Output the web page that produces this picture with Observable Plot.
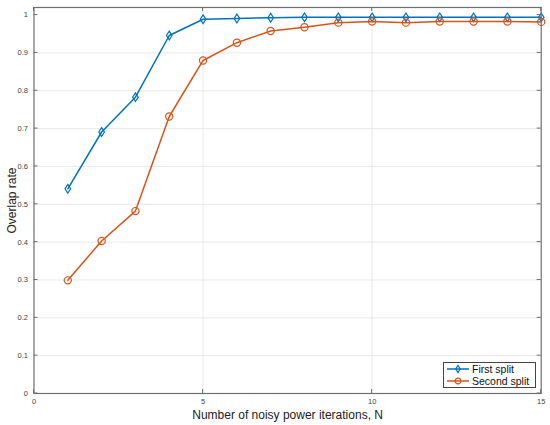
<!DOCTYPE html>
<html>
<head>
<meta charset="utf-8">
<script src="https://cdn.jsdelivr.net/npm/d3@7"></script>
<script src="https://cdn.jsdelivr.net/npm/@observablehq/plot@0.6"></script>
<style>
  body { margin: 0; background: #fff; }
  #wrap { position: relative; width: 550px; height: 425px; font-family: "Liberation Sans", Arial, sans-serif; }
  #legend { position: absolute; left: 443px; top: 362px; width: 91px; height: 24px; border: 1px solid #444; background: #fff; font-size: 10.5px; color: #111; }
  #legend .row { display: flex; align-items: center; height: 12px; }
  #legend svg { margin-left: 2px; margin-right: 2px; }
</style>
</head>
<body>
<div id="wrap"></div>
<script>
const iterations = [1,2,3,4,5,6,7,8,9,10,11,12,13,14,15];
const firstSplit = [0.541,0.691,0.783,0.946,0.989,0.991,0.993,0.994,0.994,0.994,0.994,0.994,0.994,0.994,0.994];
const secondSplit = [0.299,0.403,0.482,0.732,0.880,0.927,0.958,0.968,0.980,0.983,0.980,0.983,0.983,0.983,0.982];
const seriesNames = ["First split", "Second split"];
const seriesColors = ["#0072BD", "#D95319"];
const xTicks = [0,5,10,15];
const yTicks = [0,0.1,0.2,0.3,0.4,0.5,0.6,0.7,0.8,0.9,1];

const rows1 = iterations.map((n,i) => ({n, v: firstSplit[i], s: seriesNames[0]}));
const rows2 = iterations.map((n,i) => ({n, v: secondSplit[i], s: seriesNames[1]}));

const narrowDiamond = {
  draw(ctx, size) {
    const h = Math.sqrt(size) * 0.58, w = h * 0.65;
    ctx.moveTo(0, -h); ctx.lineTo(w, 0); ctx.lineTo(0, h); ctx.lineTo(-w, 0); ctx.closePath();
  }
};

const axisColor = "#6e6e6e";
const mTop = 7, mBottom = 32, mLeft = 33.5, mRight = 9.3;
const chart = Plot.plot({
  width: 550,
  height: 425,
  marginLeft: mLeft,
  marginRight: mRight,
  marginTop: mTop,
  marginBottom: mBottom,
  style: { fontFamily: "Liberation Sans, Arial, sans-serif", background: "#fff" },
  x: { domain: [0, 15] },
  y: { domain: [0, 1.02] },
  marks: [
    Plot.gridX(xTicks.slice(1, -1), { stroke: "#e3e3e3", strokeOpacity: 1, strokeWidth: 0.8 }),
    Plot.gridY(yTicks.slice(1, -1), { stroke: "#e3e3e3", strokeOpacity: 1, strokeWidth: 0.8 }),
    Plot.axisX(xTicks, { tickSize: 0, tickPadding: 5, fontSize: 7.5, fill: "#444", label: null }),
    Plot.axisX({ ticks: [], tickSize: 0, fontSize: 12, fill: "#222", label: "Number of noisy power iterations, N", labelAnchor: "center", labelArrow: "none", labelOffset: 25 }),
    Plot.axisY(yTicks, { tickSize: 0, tickPadding: 6, fontSize: 7.5, fill: "#444", tickFormat: d => String(+d.toFixed(1)), label: null }),
    Plot.axisY({ ticks: [], tickSize: 0, fontSize: 12, fill: "#222", label: "Overlap rate", labelAnchor: "center", labelArrow: "none", labelOffset: 27 }),
    Plot.line(rows1, { x: "n", y: "v", stroke: seriesColors[0], strokeWidth: 1.5 }),
    Plot.dot(rows1, { x: "n", y: "v", stroke: seriesColors[0], fill: "none", symbol: narrowDiamond, r: 4.2, strokeWidth: 1.2 }),
    Plot.line(rows2, { x: "n", y: "v", stroke: seriesColors[1], strokeWidth: 1.5 }),
    Plot.dot(rows2, { x: "n", y: "v", stroke: seriesColors[1], fill: "none", r: 3.6, strokeWidth: 1.2 }),
    Plot.frame({ stroke: axisColor, strokeWidth: 1.2 })
  ]
});

const svg = d3.select(chart);
const xs = chart.scale("x"), ys = chart.scale("y");
const g = svg.append("g").attr("stroke", axisColor).attr("stroke-width", 1);
const yTopPx = mTop, yBotPx = 425 - mBottom, xLeftPx = mLeft, xRightPx = 550 - mRight;
xTicks.forEach(t => {
  const x = xs.apply(t);
  g.append("line").attr("x1", x).attr("x2", x).attr("y1", yBotPx).attr("y2", yBotPx - 4);
  g.append("line").attr("x1", x).attr("x2", x).attr("y1", yTopPx).attr("y2", yTopPx + 4);
});
yTicks.forEach(t => {
  const y = ys.apply(t);
  g.append("line").attr("x1", xLeftPx).attr("x2", xLeftPx + 4).attr("y1", y).attr("y2", y);
  g.append("line").attr("x1", xRightPx).attr("x2", xRightPx - 4).attr("y1", y).attr("y2", y);
});

document.getElementById("wrap").appendChild(chart);

const legend = document.createElement("div");
legend.id = "legend";
seriesNames.forEach((name, i) => {
  const row = document.createElement("div");
  row.className = "row";
  const sym = i === 0
    ? `<path d="M12,2.5 L14.2,6 L12,9.5 L9.8,6 Z" fill="none" stroke="${seriesColors[i]}" stroke-width="1.2"/>`
    : `<circle cx="12" cy="6" r="2.8" fill="none" stroke="${seriesColors[i]}" stroke-width="1.2"/>`;
  row.innerHTML = `<svg width="24" height="12"><line x1="1" x2="23" y1="6" y2="6" stroke="${seriesColors[i]}" stroke-width="1.5"/>${sym}</svg><span>${name}</span>`;
  legend.appendChild(row);
});
document.getElementById("wrap").appendChild(legend);
</script>
</body>
</html>
